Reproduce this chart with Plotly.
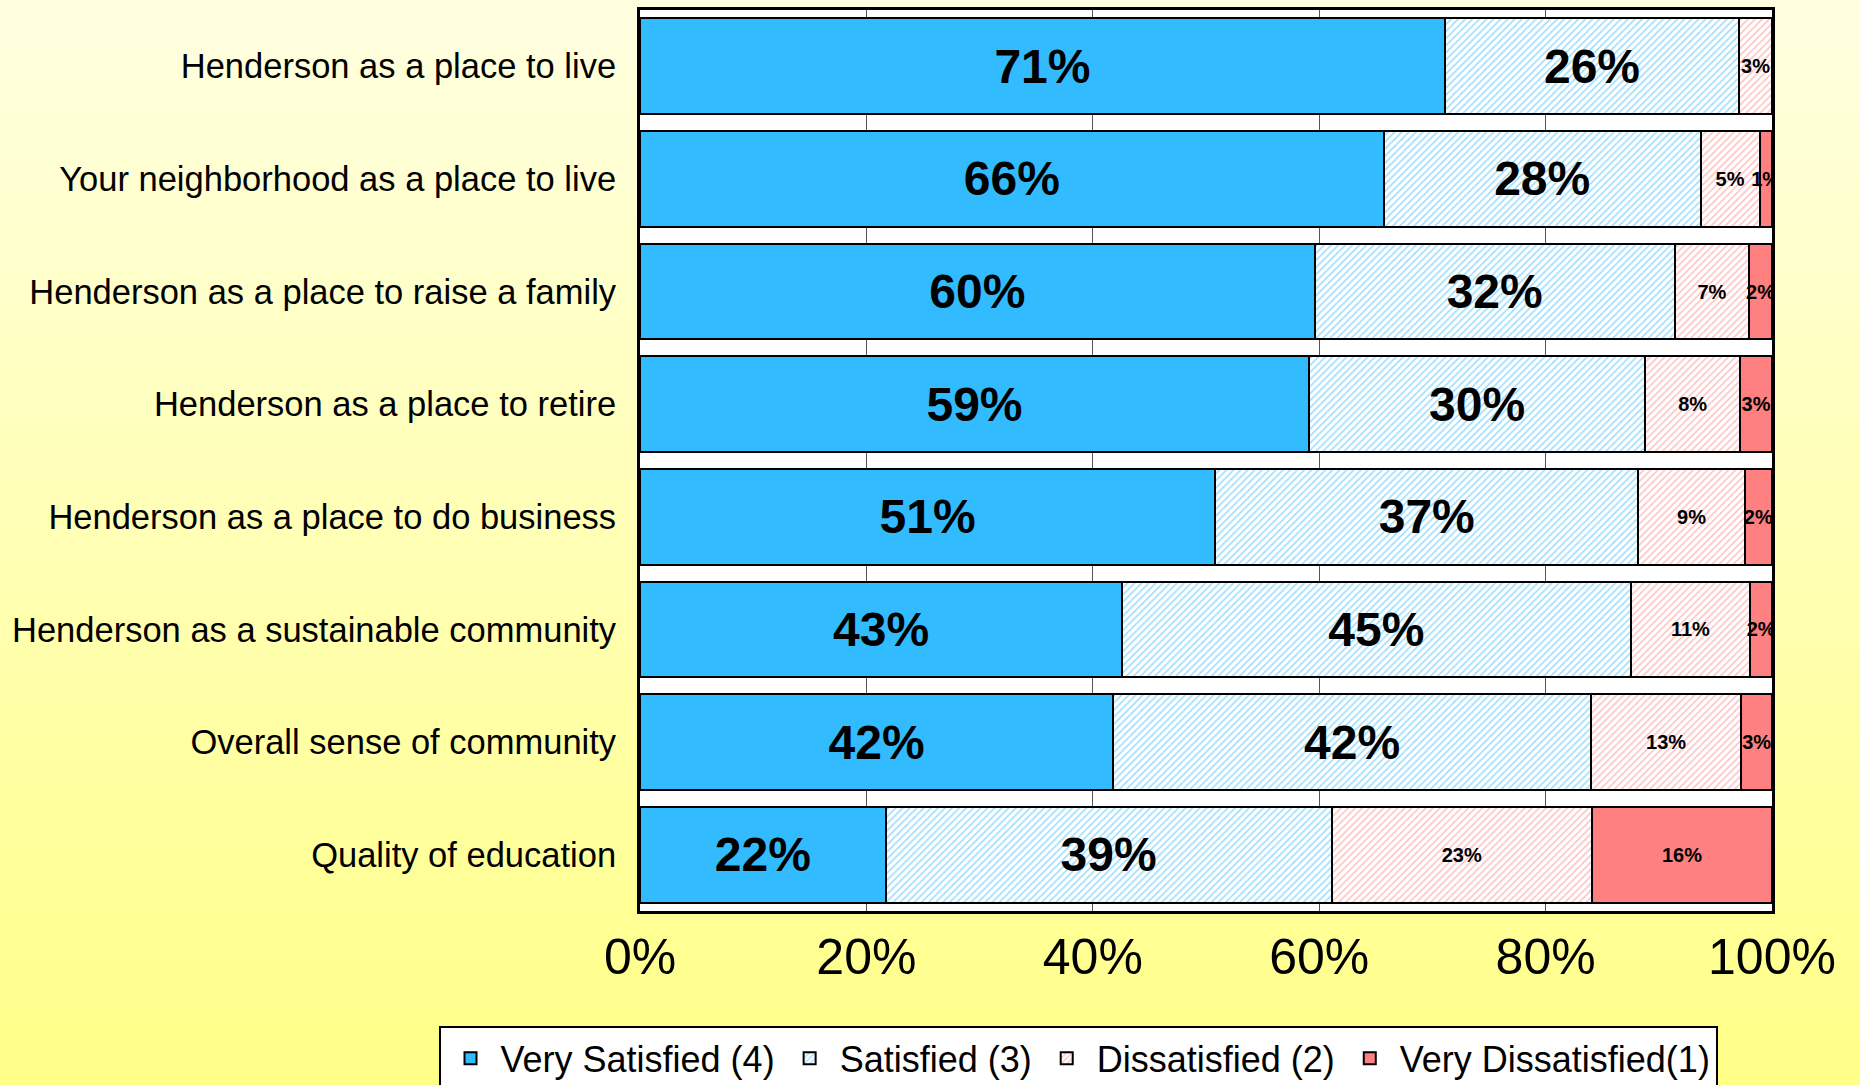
import plotly.graph_objects as go

# survey items, top to bottom
items = [
    "Henderson as a place to live",
    "Your neighborhood as a place to live",
    "Henderson as a place to raise a family",
    "Henderson as a place to retire",
    "Henderson as a place to do business",
    "Henderson as a sustainable community",
    "Overall sense of community",
    "Quality of education",
]

very_satisfied = [71.1, 65.7, 59.6, 59.1, 50.8, 42.6, 41.8, 21.7]
satisfied = [26.0, 28.0, 31.8, 29.7, 37.4, 44.9, 42.2, 39.4]
dissatisfied = [2.9, 5.2, 6.6, 8.4, 9.4, 10.6, 13.3, 23.0]
very_dissatisfied = [0.0, 1.1, 2.0, 2.8, 2.4, 1.9, 2.7, 15.9]

x_ticks = [0, 20, 40, 60, 80, 100]
x_tick_text = ["0%", "20%", "40%", "60%", "80%", "100%"]

BLUE = '#33bbff'
PINK = '#ff8080'
FONT = "Liberation Sans, Arial, sans-serif"


def labels(vals):
    return [f"{v:.0f}%" if v > 0 else "" for v in vals]


series = [
    ("Very Satisfied (4)", very_satisfied, dict(color=BLUE), 48),
    ("Satisfied (3)", satisfied,
     dict(color='white', pattern=dict(shape='/', fgcolor=BLUE, bgcolor='white', size=5, solidity=0.3)), 48),
    ("Dissatisfied (2)", dissatisfied,
     dict(color='white', pattern=dict(shape='/', fgcolor=PINK, bgcolor='white', size=5, solidity=0.3)), 20),
    ("Very Dissatisfied(1)", very_dissatisfied, dict(color=PINK), 20),
]

fig = go.Figure()
for name, vals, marker, fsize in series:
    marker = dict(marker, line=dict(color='black', width=2))
    fig.add_trace(go.Bar(
        y=items, x=vals, name=name, orientation='h',
        marker=marker,
        text=labels(vals),
        textposition='inside',
        insidetextanchor='middle',
        textangle=0,
        constraintext='none',
        insidetextfont=dict(family=FONT, size=fsize, color='black', weight='bold'),
        hoverinfo='x+y',
    ))

# yellow gradient background, built from thin strips
shapes = []
n = 80
top_y, bot_y = 1 + 10 / 901, -174 / 901
c_top = (255, 255, 224)
c_bot = (255, 255, 136)
for i in range(n):
    f = i / (n - 1)
    col = tuple(int(round(c_top[k] + (c_bot[k] - c_top[k]) * f)) for k in range(3))
    y1 = top_y + (bot_y - top_y) * i / n
    y0 = top_y + (bot_y - top_y) * (i + 1) / n
    if i == 0:
        y1 = 1.5
    if i == n - 1:
        y0 = -0.5
    shapes.append(dict(type='rect', xref='paper', yref='paper', x0=-1, x1=2,
                       y0=y0 - 0.002, y1=y1, fillcolor='rgb(%d,%d,%d)' % col,
                       line=dict(width=0), layer='below'))
shapes.append(dict(type='rect', xref='paper', yref='paper', x0=0, x1=1, y0=0, y1=1,
                   fillcolor='white', line=dict(width=0), layer='below'))

fig.update_layout(
    barmode='stack',
    bargap=0.15,
    width=1860, height=1085,
    margin=dict(l=640, r=88, t=10, b=174, autoexpand=False),
    paper_bgcolor='rgb(255,255,180)',
    plot_bgcolor='white',
    shapes=shapes,
    font=dict(family=FONT, color='black'),
    xaxis=dict(
        range=[0, 100], tickvals=x_ticks, ticktext=x_tick_text,
        tickfont=dict(size=50), showgrid=True, gridcolor='#555555', gridwidth=1,
        showline=True, linecolor='black', linewidth=3, mirror=True,
        ticks='', zeroline=False,
    ),
    yaxis=dict(
        autorange='reversed', tickfont=dict(size=34.5),
        showline=True, linecolor='black', linewidth=3, mirror=True,
        ticks='', ticklabelstandoff=14,
    ),
    legend=dict(
        orientation='h', x=-0.178, xanchor='left', y=-0.128, yanchor='top',
        bgcolor='white', bordercolor='black', borderwidth=2,
        font=dict(size=36), traceorder='normal', itemwidth=50,
    ),
    showlegend=True,
)

fig.write_html("out.html", post_script="document.body.style.margin='0';",
               config={'displayModeBar': False})
